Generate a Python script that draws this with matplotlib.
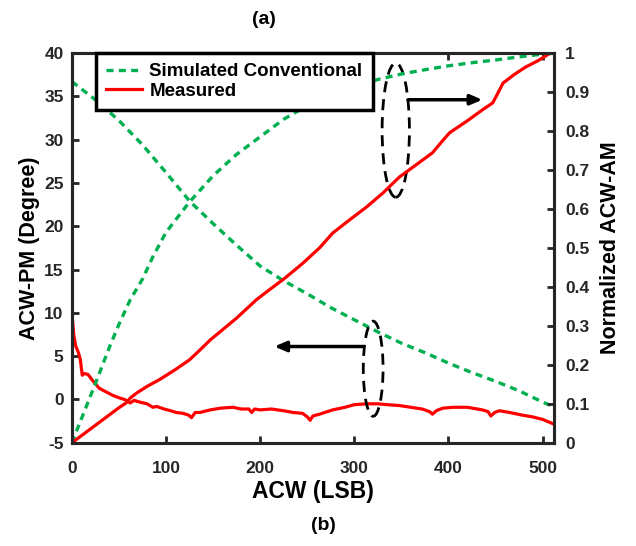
import matplotlib
matplotlib.use("Agg")
import matplotlib.pyplot as plt
from matplotlib.patches import Ellipse

plt.rcParams["font.family"] = ["Liberation Sans", "DejaVu Sans"]
plt.rcParams["font.weight"] = "bold"
plt.rcParams["axes.unicode_minus"] = False

GREEN = "#00b050"
RED = "#ff0000"
AXC = "#262626"

# simulated conventional (green dashed)
sim_pm_x = [0, 25, 50, 75, 100, 125, 150, 175, 200, 225, 250, 275, 300, 325,
            350, 375, 400, 425, 450, 475, 500, 511]
sim_pm_y = [36.7, 34.6, 32.2, 29.4, 26.2, 22.9, 20.3, 17.8, 15.4, 13.7, 12.2,
            10.6, 9.2, 7.8, 6.5, 5.4, 4.2, 3.1, 2.1, 1.0, -0.3, -0.8]

sim_am_x = [0, 25, 40, 50, 62, 75, 86, 100, 125, 150, 175, 200, 225, 250, 275,
            300, 325, 350, 375, 400, 425, 450, 475, 500, 511]
sim_am_y = [0.0, 0.152, 0.246, 0.304, 0.367, 0.42, 0.477, 0.54, 0.618, 0.685,
            0.74, 0.785, 0.83, 0.865, 0.89, 0.912, 0.932, 0.946, 0.957, 0.967,
            0.975, 0.982, 0.99, 0.997, 1.0]

# measured (red)
meas_pm_x = [0, 2, 4, 7, 9, 11, 13, 17, 22, 29, 36, 43, 50, 56, 62, 66, 72, 80,
             86, 90, 98, 105, 111, 118, 124, 127, 131, 136, 147, 158, 171, 180,
             188, 191, 194, 200, 212, 225, 235, 245, 250, 253, 256, 263, 277,
             290, 300, 313, 325, 335, 348, 360, 372, 380, 383, 387, 394, 405,
             420, 436, 442, 445, 449, 454, 465, 478, 489, 500, 511]
meas_pm_y = [10.0, 7.5, 6.2, 5.4, 4.6, 2.8, 3.0, 2.9, 2.2, 1.3, 0.9, 0.5, 0.2,
             0.0, -0.4, -0.1, -0.3, -0.5, -0.9, -0.8, -1.1, -1.3, -1.5, -1.6,
             -1.8, -2.1, -1.5, -1.5, -1.2, -1.0, -0.9, -1.1, -1.1, -1.5, -1.1,
             -1.2, -1.1, -1.3, -1.5, -1.6, -2.0, -2.4, -1.9, -1.7, -1.2, -0.9,
             -0.6, -0.5, -0.5, -0.6, -0.7, -0.9, -1.1, -1.4, -1.7, -1.3, -1.0,
             -0.9, -0.9, -1.2, -1.4, -1.9, -1.5, -1.3, -1.5, -1.8, -2.0, -2.3,
             -2.8]

meas_am_x = [0, 25, 50, 58, 62, 69, 80, 93, 110, 125, 136, 147, 160, 175, 196,
             210, 225, 245, 263, 277, 295, 313, 330, 348, 365, 383, 392, 401,
             420, 436, 447, 452, 458, 470, 482, 495, 507, 511]
meas_am_y = [0.0, 0.045, 0.09, 0.103, 0.115, 0.128, 0.145, 0.162, 0.188, 0.213,
             0.238, 0.264, 0.29, 0.32, 0.367, 0.393, 0.42, 0.46, 0.50, 0.538,
             0.572, 0.605, 0.64, 0.682, 0.712, 0.744, 0.77, 0.795, 0.826,
             0.854, 0.872, 0.895, 0.923, 0.945, 0.964, 0.98, 0.998, 1.0]

fig = plt.figure(figsize=(6.36, 5.46), dpi=100)
ax = fig.add_axes([0.113, 0.189, 0.758, 0.714])
ax2 = ax.twinx()

dash = (0, (2.1, 1.6))
l1, = ax.plot(sim_pm_x, sim_pm_y, color=GREEN, lw=2.4, linestyle=dash,
              dash_capstyle="butt", label="Simulated Conventional")
l2, = ax.plot(meas_pm_x, meas_pm_y, color=RED, lw=2.3, label="Measured")
ax2.plot(sim_am_x, sim_am_y, color=GREEN, lw=2.4, linestyle=dash,
         dash_capstyle="butt")
ax2.plot(meas_am_x, meas_am_y, color=RED, lw=2.3)

ax.set_xlim(0, 512)
ax.set_ylim(-5, 40)
ax2.set_ylim(0, 1)
ax.set_xticks(range(0, 501, 100))
ax.set_yticks(range(-5, 41, 5))
ax2.set_yticks([i / 10 for i in range(11)])
ax2.set_yticklabels(["0", "0.1", "0.2", "0.3", "0.4", "0.5", "0.6", "0.7",
                     "0.8", "0.9", "1"])

for a in (ax, ax2):
    for s in a.spines.values():
        s.set_linewidth(2.2)
        s.set_color(AXC)
ax.tick_params(axis="x", direction="in", top=True, length=5, width=2,
               color=AXC, labelcolor=AXC, labelsize=12.5, pad=13)
ax.tick_params(axis="y", direction="in", right=False, length=5, width=2,
               color=AXC, labelcolor=AXC, labelsize=12.5, pad=6)
ax2.tick_params(axis="y", direction="in", length=5, width=2, color=AXC,
                labelcolor=AXC, labelsize=12.5, pad=8)

ax.set_xlabel("ACW (LSB)", fontsize=16.5, fontweight="bold", labelpad=3)
ax.set_ylabel("ACW-PM (Degree)", fontsize=15.5, fontweight="bold", labelpad=3)
ax2.set_ylabel("Normalized ACW-AM", fontsize=15.5, fontweight="bold", labelpad=8)

# annotations: AM group (right arrow) and PM group (left arrow)
ax2.add_patch(Ellipse((344, 0.802), 29, 0.344, fill=False, lw=2, ls=(0, (4, 2.5)),
                      color="black"))
ax2.annotate("", xy=(436, 0.88), xytext=(357, 0.88),
             arrowprops=dict(arrowstyle="-|>,head_length=0.7,head_width=0.3",
                             lw=2.5, color="black", shrinkA=0, shrinkB=0))
ax2.add_patch(Ellipse((320, 0.19), 21, 0.244, fill=False, lw=2, ls=(0, (4, 2.5)),
                      color="black"))
ax2.annotate("", xy=(215, 0.247), xytext=(309, 0.247),
             arrowprops=dict(arrowstyle="-|>,head_length=0.7,head_width=0.3",
                             lw=2.5, color="black", shrinkA=0, shrinkB=0))

leg = ax2.legend(handles=[l1, l2], loc="upper left", bbox_to_anchor=(0.05, 1.0),
                 borderaxespad=0, fontsize=13.5, handlelength=1.9,
                 handletextpad=0.4, labelspacing=0.12, borderpad=0.55,
                 fancybox=False, framealpha=1, edgecolor="black")
leg.get_frame().set_linewidth(2.5)

fig.text(0.415, 0.965, "(a)", ha="center", va="center", fontsize=14,
         fontweight="bold")
fig.text(0.508, 0.037, "(b)", ha="center", va="center", fontsize=14,
         fontweight="bold")

fig.savefig("out.png", dpi=100)
